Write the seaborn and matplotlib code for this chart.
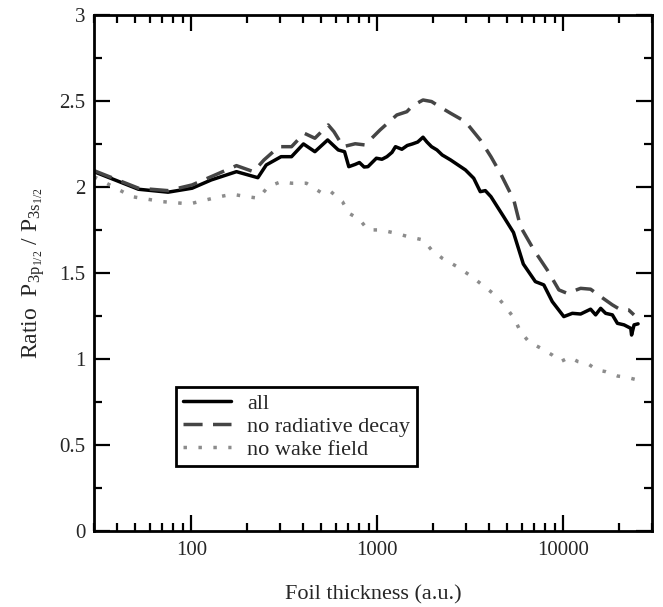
import numpy as np
import pandas as pd
import matplotlib
matplotlib.use("Agg")
import matplotlib.pyplot as plt
from matplotlib.ticker import FixedLocator, LogLocator, NullFormatter, FuncFormatter, MultipleLocator
import seaborn as sns

# ---- data ----
x_all = [30, 52, 75, 101, 128, 175, 228, 253, 304, 346, 401, 462, 541, 617, 667, 703,
         760, 802, 850, 891, 989, 1060, 1127, 1200, 1253, 1356, 1450, 1546, 1650, 1762,
         1850, 1958, 2094, 2234, 2479, 2979, 3300, 3580, 3811, 4085, 4780, 5400, 6100,
         7080, 7860, 8730, 10070, 11190, 12400, 14030, 14930, 15890, 16900, 18370, 19550,
         21230, 23070, 23300, 24030, 25250]
y_all = [2.088, 1.986, 1.969, 1.992, 2.040, 2.088, 2.053, 2.127, 2.175, 2.175, 2.249, 2.204,
         2.272, 2.214, 2.204, 2.117, 2.130, 2.141, 2.115, 2.117, 2.166, 2.160, 2.175, 2.200,
         2.233, 2.218, 2.240, 2.249, 2.260, 2.288, 2.260, 2.233, 2.214, 2.185, 2.156, 2.098,
         2.050, 1.972, 1.978, 1.943, 1.827, 1.735, 1.552, 1.450, 1.431, 1.334, 1.247, 1.266,
         1.262, 1.290, 1.257, 1.295, 1.266, 1.257, 1.208, 1.199, 1.179, 1.140, 1.199, 1.205]

x_norad = [30, 52, 75, 101, 128, 175, 216, 246, 296, 346, 405, 462, 545, 585, 656, 761,
           859, 1035, 1274, 1442, 1546, 1762, 1958, 2234, 2479, 2979, 3580, 4085, 4590,
           5420, 5890, 6950, 8200, 9470, 10500, 12400, 14030, 15890, 18370, 20080, 22450,
           24000]
y_norad = [2.094, 1.992, 1.978, 2.011, 2.059, 2.123, 2.088, 2.156, 2.233, 2.233, 2.311,
           2.282, 2.359, 2.320, 2.233, 2.250, 2.243, 2.330, 2.417, 2.436, 2.470, 2.504,
           2.495, 2.456, 2.427, 2.378, 2.272, 2.175, 2.079, 1.924, 1.769, 1.634, 1.518,
           1.402, 1.382, 1.411, 1.406, 1.363, 1.315, 1.290, 1.286, 1.257]

x_nowake = [30, 48, 70, 98, 142, 166, 199, 230, 259, 304, 346, 416, 500, 555, 650, 703,
            802, 891, 1043, 1253, 1466, 1762, 1958, 2234, 2685, 3224, 3768, 4410, 4890,
            5445, 5890, 6540, 7600, 8730, 9700, 10800, 12000, 13500, 15200, 16840, 19600,
            21880, 24280]
y_nowake = [2.059, 1.943, 1.914, 1.901, 1.943, 1.957, 1.943, 1.934, 2.001, 2.030, 2.021,
            2.021, 1.966, 1.978, 1.914, 1.847, 1.812, 1.750, 1.750, 1.731, 1.711, 1.692,
            1.634, 1.586, 1.537, 1.479, 1.421, 1.363, 1.305, 1.237, 1.160, 1.100, 1.063,
            1.024, 0.986, 1.011, 0.986, 0.975, 0.937, 0.928, 0.902, 0.895, 0.883]

labels = ["all", "no radiative decay", "no wake field"]
x_ticks = [100, 1000, 10000]
y_ticks = [0, 0.5, 1, 1.5, 2, 2.5, 3]

# ---- style ----
sns.set_style("ticks")
plt.rcParams["font.family"] = ["Liberation Serif", "DejaVu Serif"]
plt.rcParams["mathtext.fontset"] = "custom"
plt.rcParams["mathtext.rm"] = "Liberation Serif"
plt.rcParams["mathtext.it"] = "Liberation Serif:italic"
plt.rcParams["mathtext.bf"] = "Liberation Serif:bold"

fig = plt.figure(figsize=(6.63, 6.07), dpi=100)
ax = fig.add_axes([0.1418, 0.1244, 0.9834 - 0.1418, 0.9761 - 0.1244])

lw = 2.5
sns.lineplot(x=x_all, y=y_all, ax=ax, color="black", lw=lw, label=labels[0],
             sort=False, estimator=None)
sns.lineplot(x=x_norad, y=y_norad, ax=ax, color="#454545", lw=lw, label=labels[1],
             sort=False, estimator=None, linestyle=(0, (5.5, 3.0)))
sns.lineplot(x=x_nowake, y=y_nowake, ax=ax, color="#8c8c8c", lw=lw, label=labels[2],
             sort=False, estimator=None, linestyle=(0, (1, 3.3)))

ax.set_xscale("log")
ax.set_xlim(30, 30000)
ax.set_ylim(0, 3)

ax.xaxis.set_major_locator(FixedLocator(x_ticks))
ax.xaxis.set_major_formatter(FuncFormatter(lambda v, p: f"{int(round(v))}"))
ax.xaxis.set_minor_locator(LogLocator(base=10, subs=np.arange(2, 10), numticks=20))
ax.xaxis.set_minor_formatter(NullFormatter())

ax.yaxis.set_major_locator(FixedLocator(y_ticks))
ax.yaxis.set_major_formatter(FuncFormatter(lambda v, p: f"{v:g}"))
ax.yaxis.set_minor_locator(MultipleLocator(0.25))

for s in ax.spines.values():
    s.set_visible(True)
    s.set_linewidth(2.0)
    s.set_color("black")

ax.tick_params(which="both", direction="in", top=True, right=True, color="black")
ax.tick_params(which="major", length=11.5, width=1.6, labelsize=15, pad=6)
ax.tick_params(which="minor", length=6, width=1.6)
ax.tick_params(axis="x", which="major", pad=7)

ax.set_xlabel("Foil thickness (a.u.)", fontsize=16, labelpad=18)
ax.set_ylabel(r"Ratio  $\mathregular{P_{3p_{1/2}}}$ / $\mathregular{P_{3s_{1/2}}}$",
              fontsize=17, labelpad=9)

leg = ax.legend(loc="upper left", bbox_to_anchor=(0.147, 0.280), borderaxespad=0,
                fontsize=16, frameon=True, fancybox=False, shadow=False, framealpha=1,
                edgecolor="black", handlelength=2.16, handletextpad=0.73,
                borderpad=0.3, labelspacing=0.1)
leg.get_frame().set_linewidth(2.0)

fig.savefig("out.png", dpi=100)
